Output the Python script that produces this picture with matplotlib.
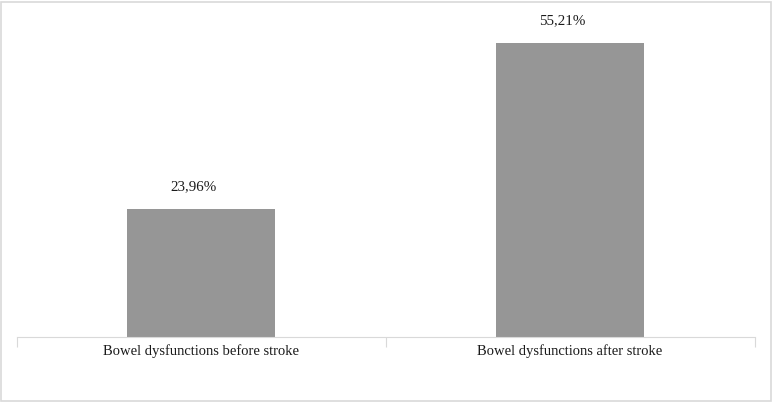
import matplotlib.pyplot as plt
from matplotlib.patches import Rectangle

categories = ["Bowel dysfunctions before stroke", "Bowel dysfunctions after stroke"]
values = [23.96, 55.21]
value_labels = ["23,96%", "55,21%"]

plt.rcParams["font.family"] = ["Liberation Serif", "DejaVu Serif"]

fig = plt.figure(figsize=(7.73, 4.03), dpi=100)
fig.patches.append(Rectangle((0.0015, 0.005), 0.996, 0.99, transform=fig.transFigure,
                             fill=False, edgecolor="#d9d9d9", linewidth=1.2))
ax = fig.add_axes([0.0215, 0.1638, 0.9547, 0.811])

x = range(len(categories))
ax.bar(x, values, width=0.401, color="#969696")
# value labels sit a little left of the bar centre, as in the source
for xi, v, lab in zip(x, values, value_labels):
    ax.annotate(lab, (xi, v), xytext=(-5.3, 16.5), textcoords="offset points",
                ha="center", va="center", fontsize=10.8, color="#1a1a1a")

ax.set_xlim(-0.5, 1.5)
ax.set_ylim(0, 61.4)
ax.set_yticks([])
for side in ["top", "right", "left"]:
    ax.spines[side].set_visible(False)
ax.spines["bottom"].set_color("#d9d9d9")
ax.set_xticks([-0.5, 0.5, 1.5], minor=False)
ax.set_xticklabels([])
ax.tick_params(axis="x", which="major", length=7, color="#d9d9d9")
ax.set_xticks(list(x), minor=True)
ax.set_xticklabels(categories, minor=True, fontsize=10.5, color="#1a1a1a")
ax.tick_params(axis="x", which="minor", length=0, pad=5)

fig.savefig("out.png", dpi=100)
